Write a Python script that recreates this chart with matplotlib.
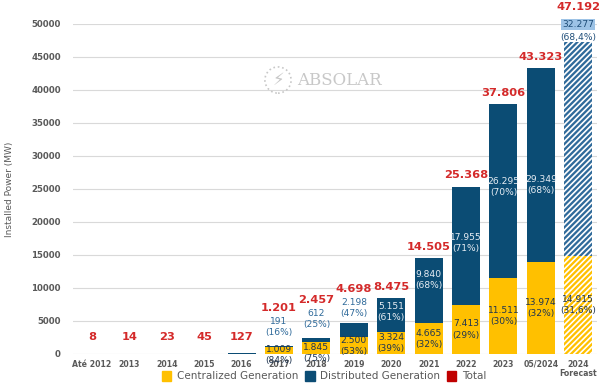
import numpy as np
import matplotlib.pyplot as plt
from matplotlib.patches import Ellipse

# data (MW)
categories = ['Até 2012', '2013', '2014', '2015', '2016', '2017', '2018',
              '2019', '2020', '2021', '2022', '2023', '05/2024', '2024\nForecast']
centralized = [0, 0, 0, 0, 24, 1009, 1845, 2500, 3324, 4665, 7413, 11511, 13974, 14915]
distributed = [8, 14, 23, 45, 103, 191, 612, 2198, 5151, 9840, 17955, 26295, 29349, 32277]
totals = [8, 14, 23, 45, 127, 1201, 2457, 4698, 8475, 14505, 25368, 37806, 43323, 47192]
cg_pct = ['', '', '', '', '', '(84%)', '(75%)', '(53%)', '(39%)', '(32%)', '(29%)', '(30%)', '(32%)', '(31,6%)']
dg_pct = ['', '', '', '', '', '(16%)', '(25%)', '(47%)', '(61%)', '(68%)', '(71%)', '(70%)', '(68%)', '(68,4%)']

YELLOW = '#FFC000'
BLUE = '#0B4C74'
RED = '#D42A2A'
GRAY = '#595959'

plt.rcParams['hatch.linewidth'] = 1.2


def fmt(v):
    return f'{v:,}'.replace(',', '.')


fig = plt.figure(figsize=(6, 3.86), dpi=100)
ax = fig.add_axes([0.122, 0.083, 0.873, 0.855])

x = np.arange(len(categories))
w = 0.75
n = len(categories)
LFS = 6.6  # data label size
TFS = 8.2  # total label size

for i in range(n):
    fc = i == n - 1
    ax.bar(x[i], centralized[i], w, color=YELLOW,
           edgecolor='white' if fc else YELLOW, linewidth=0,
           hatch='//////' if fc else None, zorder=2)
    ax.bar(x[i], distributed[i], w, bottom=centralized[i], color=BLUE if not fc else '#2f6a9a',
           edgecolor='white' if fc else BLUE, linewidth=0,
           hatch='//////' if fc else None, zorder=2)

# labels
for i in range(n):
    t = totals[i]
    if i < 5:
        ax.text(x[i], 2600, fmt(t), ha='center', va='center', color=RED,
                fontsize=TFS, fontweight='bold')
        continue
    c, d = centralized[i], distributed[i]
    # centralized label
    cy = max(c / 2, 700)
    if i in (5, 6):
        cy = {5: -150, 6: 200}[i]
    ax.text(x[i], cy, f'{fmt(c)}\n{cg_pct[i]}', ha='center', va='center',
            color='#1F3550', fontsize=LFS, linespacing=1.3, zorder=4)
    # distributed label
    if i <= 7:
        dy = t + 1500 + (600 if i < 7 else 0)
        ax.text(x[i], dy + 800, f'{fmt(d)}\n{dg_pct[i]}', ha='center', va='center',
                color='#2F6A9A', fontsize=LFS, linespacing=1.3, zorder=4)
        ty = dy + 3600
    elif i == n - 1:
        ax.text(x[i], 49900, fmt(d), ha='center', va='center', color='#1F4E79',
                fontsize=LFS, zorder=4,
                bbox=dict(boxstyle='square,pad=0.1', fc='#9DC3E6', ec='none'))
        ax.text(x[i], 48000, dg_pct[i], ha='center', va='center', color='#1F4E79',
                fontsize=LFS, zorder=4)
        ty = 52500
    else:
        dy = {8: 6300, 9: 11200, 10: 16800, 11: 25300, 12: 25600}[i]
        ax.text(x[i], dy, f'{fmt(d)}\n{dg_pct[i]}', ha='center', va='center',
                color='#E8EEF4', fontsize=LFS, linespacing=1.3, zorder=4)
        ty = t + 1700
    ax.text(x[i], ty, fmt(t), ha='center', va='center', color=RED,
            fontsize=TFS, fontweight='bold', clip_on=False)

ax.set_xlim(-0.5, n - 0.5)
ax.set_ylim(0, 50000)
ax.set_yticks(np.arange(0, 50001, 5000))
ax.set_xticks(x)
ax.set_xticklabels(categories, fontsize=5.6, fontweight='bold', color=GRAY, linespacing=1.1)
ax.tick_params(axis='y', labelsize=6.2, labelcolor=GRAY, length=0, pad=9)
ax.tick_params(axis='x', length=0, pad=4)
for lbl in ax.get_yticklabels():
    lbl.set_fontweight('bold')
ax.grid(axis='y', color='#D9D9D9', linewidth=0.8, zorder=0)
ax.set_axisbelow(True)
for s in ax.spines.values():
    s.set_visible(False)
ax.set_ylabel('Installed Power (MW)', fontsize=6.5, color=GRAY, labelpad=12)

# watermark
ax.text(0.428, 0.83, 'ABSOLAR', transform=ax.transAxes, fontsize=12,
        family='DejaVu Serif', color='#C8C8C8', va='center', ha='left', zorder=1)
ax.text(0.391, 0.83, '\u26A1', transform=ax.transAxes, fontsize=12,
        color='#C8C8C8', va='center', ha='center', zorder=1)
ax.add_patch(Ellipse((0.391, 0.83), 0.05, 0.05 * 524 / 330, transform=ax.transAxes,
                     fill=False, ec='#C8C8C8', ls=':', lw=1.2, zorder=1))

# legend
handles = [plt.Rectangle((0, 0), 1, 1, color=YELLOW),
           plt.Rectangle((0, 0), 1, 1, color=BLUE),
           plt.Rectangle((0, 0), 1, 1, color='#C00000')]
fig.legend(handles, ['Centralized Generation', 'Distributed Generation', 'Total'],
           loc='center', bbox_to_anchor=(0.54, 0.025), ncol=3, frameon=False,
           fontsize=7.5, labelcolor=GRAY, handlelength=0.9, handleheight=1.0,
           handletextpad=0.5, columnspacing=0.7, borderpad=0.1)

fig.savefig('out.png', dpi=100)
